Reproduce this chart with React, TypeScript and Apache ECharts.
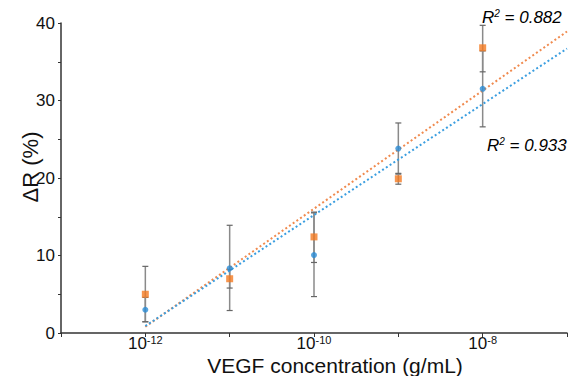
import React, { useEffect, useRef } from "react";
import * as echarts from "echarts";

// VEGF concentrations (g/mL)
const concentrations = [1e-12, 1e-11, 1e-10, 1e-9, 1e-8];
// Blue series (circles)
const blueValues = [3.0, 8.35, 10.05, 23.8, 31.5];
const blueLow = [1.45, 2.9, 4.7, 20.5, 26.6];
const blueHigh = [4.6, 13.9, 15.5, 27.1, 36.4];
// Orange series (squares)
const orangeValues = [5.0, 7.0, 12.4, 19.9, 36.8];
const orangeLow = [1.45, 5.8, 9.1, 19.2, 33.7];
const orangeHigh = [8.6, 8.2, 15.6, 20.6, 39.7];
// Fitted trend lines (end points)
const blueFit = [[1e-12, 0.9], [1e-7, 36.7]];
const orangeFit = [[1e-12, 0.8], [1e-7, 38.9]];
// Labels
const xLabelExponents = [-12, -10, -8];
const yLabelValues = [0, 10, 20, 30, 40];
const blueR2 = "0.933";
const orangeR2 = "0.882";

const BLUE = "#2b8cd6";
const ORANGE = "#f47a22";
const FONT = "Liberation Sans, Arial, sans-serif";

function errorSeries(low: number[], high: number[]) {
  return {
    type: "custom",
    z: 1,
    silent: true,
    data: concentrations.map((c, i) => [c, low[i], high[i]]),
    renderItem: (_params: any, api: any) => {
      const x = api.value(0);
      const lo = api.coord([x, api.value(1)]);
      const hi = api.coord([x, api.value(2)]);
      const w = 3;
      return {
        type: "group",
        children: [
          { type: "line", shape: { x1: lo[0], y1: lo[1], x2: hi[0], y2: hi[1] }, style: { stroke: "#8a8a8a", lineWidth: 1.5 } },
          { type: "line", shape: { x1: lo[0] - w, y1: lo[1], x2: lo[0] + w, y2: lo[1] }, style: { stroke: "#666", lineWidth: 1.2 } },
          { type: "line", shape: { x1: hi[0] - w, y1: hi[1], x2: hi[0] + w, y2: hi[1] }, style: { stroke: "#666", lineWidth: 1.2 } },
        ],
      };
    },
  };
}

const r2Rich = {
  r: { fontSize: 17, lineHeight: 17, fontStyle: "italic", fontFamily: FONT, color: "#111" },
  s: { fontSize: 10, lineHeight: 10, fontStyle: "italic", fontFamily: FONT, color: "#111", padding: [0, 0, 7, 0] },
};

export default function App() {
  const ref = useRef<HTMLDivElement>(null);
  useEffect(() => {
    if (!ref.current) return;
    const chart = echarts.init(ref.current, null, { renderer: "svg" });
    chart.setOption({
      animation: false,
      backgroundColor: "#ffffff",
      grid: { left: 61, right: 0, top: 23, bottom: 43 },
      xAxis: {
        type: "log",
        logBase: 10,
        min: 1e-13,
        max: 1e-7,
        interval: 1,
        axisLine: { lineStyle: { color: "#333", width: 1.5 } },
        axisTick: { show: true, length: 4, lineStyle: { color: "#333" } },
        splitLine: { show: false },
        axisLabel: {
          margin: 3,
          color: "#111",
          fontFamily: FONT,
          formatter: (v: number) => {
            const e = Math.round(Math.log10(v));
            return xLabelExponents.includes(e) ? `{b|10}{s|${e}}` : "";
          },
          rich: {
            b: { fontSize: 17, lineHeight: 15, fontFamily: FONT, color: "#111" },
            s: { fontSize: 11, lineHeight: 8, fontFamily: FONT, color: "#111", padding: [0, 0, 7, 0] },
          },
        },
      },
      yAxis: {
        type: "value",
        min: 0,
        max: 40,
        interval: 5,
        axisLine: { show: true, lineStyle: { color: "#333", width: 1.5 } },
        axisTick: { show: true, length: 3, lineStyle: { color: "#333" } },
        splitLine: { show: false },
        axisLabel: {
          margin: 6,
          fontSize: 17,
          color: "#111",
          fontFamily: FONT,
          formatter: (v: number) => (yLabelValues.includes(v) ? String(v) : ""),
        },
      },
      series: [
        errorSeries(blueLow, blueHigh),
        errorSeries(orangeLow, orangeHigh),
        {
          type: "line",
          z: 2,
          data: orangeFit,
          symbol: "none",
          silent: true,
          lineStyle: { color: "#f08a4e", width: 2, type: [2, 2.5] },
        },
        {
          type: "line",
          z: 2,
          data: blueFit,
          symbol: "none",
          silent: true,
          lineStyle: { color: "#3a9ee0", width: 2, type: [2, 2.5] },
        },
        {
          type: "scatter",
          z: 3,
          symbol: "rect",
          symbolSize: 7,
          itemStyle: { color: ORANGE },
          data: concentrations.map((c, i) => [c, orangeValues[i]]),
        },
        {
          type: "scatter",
          z: 4,
          symbol: "circle",
          symbolSize: 6,
          itemStyle: { color: BLUE },
          data: concentrations.map((c, i) => [c, blueValues[i]]),
        },
      ],
      graphic: [
        {
          type: "text",
          x: 30,
          y: 167,
          rotation: Math.PI / 2,
          style: {
            text: "ΔR (%)",
            font: `22px ${FONT}`,
            fill: "#111",
            textAlign: "center",
            textVerticalAlign: "middle",
          },
        },
        {
          type: "text",
          x: 335,
          y: 365,
          style: {
            text: "VEGF concentration (g/mL)",
            font: `21px ${FONT}`,
            fill: "#111",
            textAlign: "center",
            textVerticalAlign: "middle",
          },
        },
        {
          type: "text",
          x: 482,
          y: 17,
          style: {
            text: `{r|R}{s|2}{r| = ${orangeR2}}`,
            textVerticalAlign: "middle",
            rich: r2Rich,
          },
        },
        {
          type: "text",
          x: 487,
          y: 145,
          style: {
            text: `{r|R}{s|2}{r| = ${blueR2}}`,
            textVerticalAlign: "middle",
            rich: r2Rich,
          },
        },
      ],
    });
    return () => chart.dispose();
  }, []);
  return (
    <div
      ref={ref}
      style={{ position: "fixed", left: 0, top: 0, width: 570, height: 376, background: "#fff" }}
    />
  );
}
